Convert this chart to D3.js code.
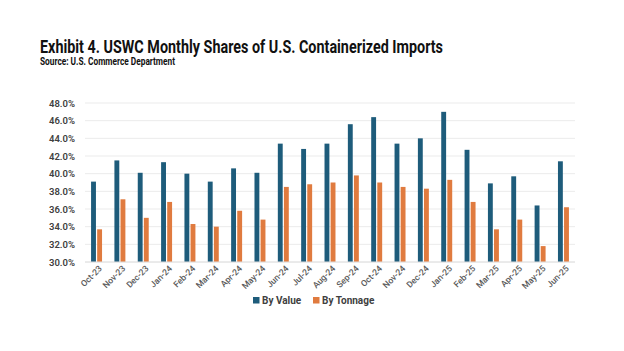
<!DOCTYPE html>
<html>
<head>
<meta charset="utf-8">
<script src="https://cdn.jsdelivr.net/npm/d3@7"></script>
<style>
  body { margin: 0; background: #fff; }
  text { font-family: Roboto, "Liberation Sans", sans-serif; }
</style>
</head>
<body>
<div id="chart"></div>
<script>
const months = ['Oct-23', 'Nov-23', 'Dec-23', 'Jan-24', 'Feb-24', 'Mar-24', 'Apr-24', 'May-24',
  'Jun-24', 'Jul-24', 'Aug-24', 'Sep-24', 'Oct-24', 'Nov-24', 'Dec-24', 'Jan-25', 'Feb-25',
  'Mar-25', 'Apr-25', 'May-25', 'Jun-25']
const byValue = [39.1, 41.5, 40.1, 41.3, 40.0, 39.1, 40.6, 40.1, 43.4, 42.8, 43.4, 45.6,
  46.4, 43.4, 44.0, 47.0, 42.7, 38.9, 39.7, 36.4, 41.4]
const byTonnage = [33.7, 37.1, 35.0, 36.8, 34.3, 34.0, 35.8, 34.8, 38.5, 38.8, 39.0, 39.8,
  39.0, 38.5, 38.3, 39.3, 36.8, 33.7, 34.8, 31.8, 36.2]
const seriesNames = ['By Value', 'By Tonnage']
const yTicks = [30, 32, 34, 36, 38, 40, 42, 44, 46, 48]

const W = 624, H = 351
const colors = { 'By Value': '#1e5c7b', 'By Tonnage': '#e07b3f' }
const m = { left: 85, right: 49, top: 103, bottom: 89 }
const width = W - m.left - m.right
const height = H - m.top - m.bottom

const svg = d3.select('#chart').append('svg').attr('width', W).attr('height', H)

// title block
svg.append('text')
  .attr('x', 40).attr('y', 52.5)
  .attr('font-size', 17.5).attr('font-weight', 700).attr('fill', '#111')
  .attr('textLength', 403).attr('lengthAdjust', 'spacingAndGlyphs')
  .text('Exhibit 4. USWC Monthly Shares of U.S. Containerized Imports')
svg.append('text')
  .attr('x', 40).attr('y', 64.5)
  .attr('font-size', 10).attr('font-weight', 700).attr('fill', '#111')
  .attr('textLength', 135).attr('lengthAdjust', 'spacingAndGlyphs')
  .text('Source: U.S. Commerce Department')

const g = svg.append('g').attr('transform', `translate(${m.left},${m.top})`)

const x0 = d3.scaleBand().domain(months).range([0, width]).paddingInner(0.53).paddingOuter(0.26)
const x1 = d3.scaleBand().domain(seriesNames).range([0, x0.bandwidth()]).paddingInner(0.2)
const y = d3.scaleLinear().domain([30, 48]).range([height, 0])

// gridlines
g.append('g')
  .selectAll('line')
  .data(yTicks)
  .join('line')
  .attr('x1', 0).attr('x2', width)
  .attr('y1', d => y(d)).attr('y2', d => y(d))
  .attr('stroke', '#ebebeb').attr('stroke-width', 1)

// y axis labels
const yAxis = g.append('g').call(d3.axisLeft(y).tickValues(yTicks).tickFormat(d => d.toFixed(1) + '%').tickSize(0).tickPadding(10))
yAxis.select('.domain').remove()
yAxis.selectAll('text')
  .attr('font-size', 9.5).attr('font-weight', 600).attr('fill', '#404040')
  .style('font-family', 'Roboto, sans-serif')

// bars
const rows = months.map((mo, i) => ({ month: mo, vals: [
  { key: 'By Value', v: byValue[i] },
  { key: 'By Tonnage', v: byTonnage[i] }
] }))

g.append('g')
  .selectAll('g')
  .data(rows)
  .join('g')
  .attr('transform', d => `translate(${x0(d.month)},0)`)
  .selectAll('rect')
  .data(d => d.vals)
  .join('rect')
  .attr('x', d => x1(d.key))
  .attr('width', x1.bandwidth())
  .attr('y', d => y(d.v))
  .attr('height', d => height - y(d.v))
  .attr('fill', d => colors[d.key])

// x axis line
g.append('line')
  .attr('x1', 0).attr('x2', width)
  .attr('y1', height).attr('y2', height)
  .attr('stroke', '#e0e0e0')

// x labels, rotated
const xAxis = g.append('g').attr('transform', `translate(0,${height})`)
  .call(d3.axisBottom(x0).tickSize(0).tickPadding(0))
xAxis.select('.domain').remove()
xAxis.selectAll('text')
  .attr('font-size', 8.6).attr('font-weight', 500).attr('fill', '#595959')
  .style('font-family', 'Roboto, sans-serif')
  .attr('text-anchor', 'end')
  .attr('dy', 0)
  .attr('transform', 'translate(6,7) rotate(-45)')

// legend
const legend = svg.append('g').attr('transform', 'translate(253,304)')
const items = legend.selectAll('g')
  .data(seriesNames)
  .join('g')
  .attr('transform', (d, i) => `translate(${i * 60},0)`)
items.append('rect')
  .attr('x', 0).attr('y', -7).attr('width', 6.5).attr('height', 6.5)
  .attr('fill', d => colors[d])
items.append('text')
  .attr('x', 9).attr('y', 0)
  .attr('font-size', 10).attr('font-weight', 700).attr('fill', '#404040')
  .text(d => d)
</script>
</body>
</html>
